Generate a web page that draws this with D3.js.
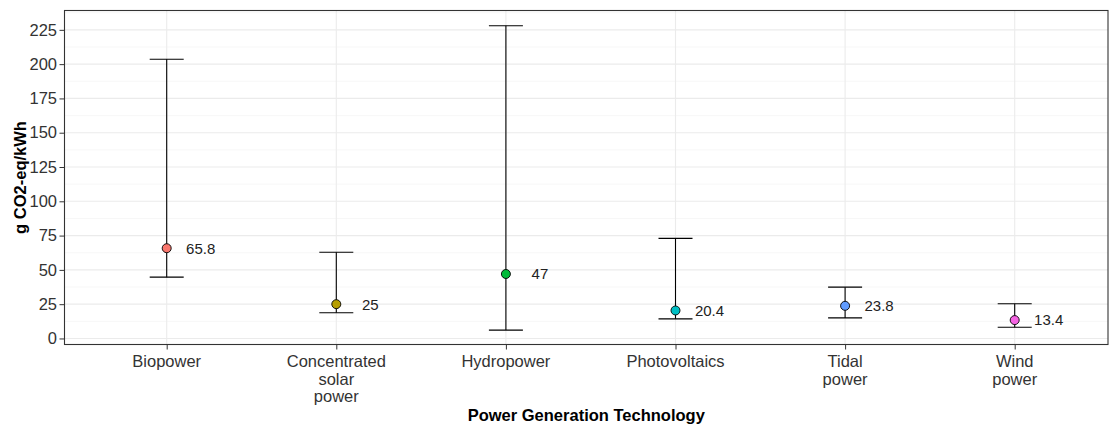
<!DOCTYPE html>
<html><head><meta charset="utf-8">
<script src="https://cdn.jsdelivr.net/npm/d3@7"></script>
<style>body{margin:0;background:#fff}</style>
</head><body>
<svg id="chart" width="1109" height="426"></svg>
<script>
const categories = ["Biopower", "Concentrated solar power", "Hydropower", "Photovoltaics", "Tidal power", "Wind power"];
const categoryLines = [["Biopower"], ["Concentrated", "solar", "power"], ["Hydropower"], ["Photovoltaics"], ["Tidal", "power"], ["Wind", "power"]];
const medianValues = [65.8, 25, 47, 20.4, 23.8, 13.4];
const lowerValues = [44.7, 18.7, 6.1, 14.3, 15.0, 8.2];
const upperValues = [203.6, 62.8, 228, 73, 37.4, 25.3];
const pointColors = ["#F8766D", "#B79F00", "#00BA38", "#00BFC4", "#619CFF", "#F564E3"];
const yTicks = [0, 25, 50, 75, 100, 125, 150, 175, 200, 225];

const svg = d3.select("#chart");
const panel = {left: 64.5, right: 1108, top: 10.5, bottom: 344.5};
const font = "Liberation Sans, Arial, sans-serif";

const y = d3.scaleLinear().domain([-4.4, 239.1]).range([panel.bottom, panel.top]);
const x = d3.scalePoint().domain(categories).range([166.7, 1014.7]);

svg.append("rect").attr("x", panel.left).attr("y", panel.top)
  .attr("width", panel.right - panel.left).attr("height", panel.bottom - panel.top)
  .attr("fill", "#fff");

const minor = d3.range(12.5, 240, 25);
svg.append("g").selectAll("line").data(minor).join("line")
  .attr("x1", panel.left).attr("x2", panel.right)
  .attr("y1", d => y(d)).attr("y2", d => y(d))
  .attr("stroke", "#F2F2F2").attr("stroke-width", 0.6);
svg.append("g").selectAll("line").data(yTicks).join("line")
  .attr("x1", panel.left).attr("x2", panel.right)
  .attr("y1", d => y(d)).attr("y2", d => y(d))
  .attr("stroke", "#EBEBEB").attr("stroke-width", 1.1);
svg.append("g").selectAll("line").data(categories).join("line")
  .attr("x1", d => x(d)).attr("x2", d => x(d))
  .attr("y1", panel.top).attr("y2", panel.bottom)
  .attr("stroke", "#EBEBEB").attr("stroke-width", 1.1);

const capHalf = 17;
const g = svg.append("g");
categories.forEach((c, i) => {
  const cx = x(c);
  g.append("line").attr("x1", cx).attr("x2", cx)
    .attr("y1", y(lowerValues[i])).attr("y2", y(upperValues[i]))
    .attr("stroke", "#000").attr("stroke-width", 1.1);
  [lowerValues[i], upperValues[i]].forEach(v => {
    g.append("line").attr("x1", cx - capHalf).attr("x2", cx + capHalf)
      .attr("y1", y(v)).attr("y2", y(v))
      .attr("stroke", "#000").attr("stroke-width", 1.1);
  });
});

svg.append("g").selectAll("circle").data(categories).join("circle")
  .attr("cx", d => x(d)).attr("cy", (d, i) => y(medianValues[i]))
  .attr("r", 4.5).attr("fill", (d, i) => pointColors[i])
  .attr("stroke", "#000").attr("stroke-width", 0.9);

svg.append("g").selectAll("text").data(categories).join("text")
  .attr("x", d => x(d) + 34).attr("y", (d, i) => y(medianValues[i]))
  .attr("dy", "0.36em").attr("text-anchor", "middle")
  .attr("font-family", font).attr("font-size", 15).attr("fill", "#222")
  .text((d, i) => medianValues[i]);

svg.append("rect").attr("x", panel.left).attr("y", panel.top)
  .attr("width", panel.right - panel.left).attr("height", panel.bottom - panel.top)
  .attr("fill", "none").attr("stroke", "#333").attr("stroke-width", 1.1);

const yAxis = svg.append("g").attr("transform", `translate(${panel.left},0)`)
  .call(d3.axisLeft(y).tickValues(yTicks).tickSize(5).tickPadding(2.5));
yAxis.select(".domain").remove();
yAxis.selectAll(".tick line").attr("stroke", "#333");
yAxis.selectAll("text").attr("font-family", font).attr("font-size", 16.5).attr("fill", "#333");

const xAxis = svg.append("g").attr("transform", `translate(0,${panel.bottom})`)
  .call(d3.axisBottom(x).tickSize(5).tickFormat(""));
xAxis.select(".domain").remove();
xAxis.selectAll(".tick line").attr("stroke", "#333");
categories.forEach((c, i) => {
  const t = svg.append("text").attr("x", x(c)).attr("y", 367)
    .attr("text-anchor", "middle").attr("font-family", font)
    .attr("font-size", 16.5).attr("fill", "#333");
  categoryLines[i].forEach((ln, j) => {
    t.append("tspan").attr("x", x(c)).attr("dy", j === 0 ? 0 : 17.5).text(ln);
  });
});

svg.append("text").attr("x", (panel.left + panel.right) / 2).attr("y", 421)
  .attr("text-anchor", "middle").attr("font-family", font).attr("font-weight", "bold")
  .attr("font-size", 16.5).attr("fill", "#000").text("Power Generation Technology");
svg.append("text").attr("transform", `translate(26,${(panel.top + panel.bottom) / 2}) rotate(-90)`)
  .attr("text-anchor", "middle").attr("font-family", font).attr("font-weight", "bold")
  .attr("font-size", 16.5).attr("fill", "#000").text("g CO2-eq/kWh");
</script>
</body></html>
